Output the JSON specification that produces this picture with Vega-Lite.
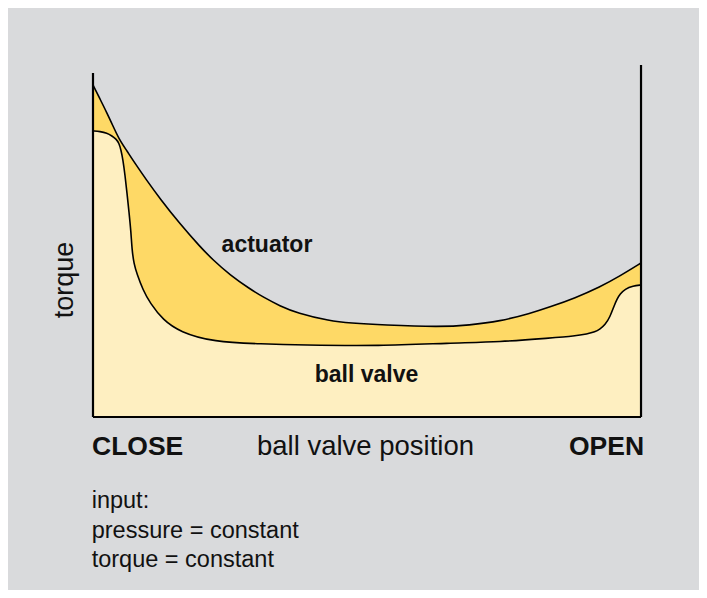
{
  "$schema": "https://vega.github.io/schema/vega-lite/v6.json",
  "width": 691,
  "height": 582,
  "padding": {"left": 8, "top": 8, "right": 8, "bottom": 8},
  "autosize": {"type": "none"},
  "background": "white",
  "config": {"view": {"stroke": null, "fill": "#d9dadc"}},
  "datasets": {
    "actuator": [
      {"pos": 0, "torque": 94.32}, {"pos": 1.28, "torque": 90.34}, {"pos": 2.55, "torque": 86.36},
      {"pos": 3.65, "torque": 82.67}, {"pos": 4.74, "torque": 78.98}, {"pos": 6.2, "torque": 75.57},
      {"pos": 7.66, "torque": 72.07}, {"pos": 9.67, "torque": 67.53}, {"pos": 12.23, "torque": 62.02},
      {"pos": 15.88, "torque": 54.83}, {"pos": 19.53, "torque": 48.39}, {"pos": 21.9, "torque": 44.6},
      {"pos": 25.0, "torque": 40.34}, {"pos": 28.65, "torque": 36.36}, {"pos": 31.02, "torque": 34.09},
      {"pos": 34.12, "torque": 31.53}, {"pos": 37.23, "torque": 29.55}, {"pos": 43.25, "torque": 27.27},
      {"pos": 46.9, "torque": 26.7}, {"pos": 52.92, "torque": 26.14}, {"pos": 63.32, "torque": 25.57},
      {"pos": 68.61, "torque": 26.08}, {"pos": 74.27, "torque": 27.19}, {"pos": 79.74, "torque": 29.4},
      {"pos": 83.39, "torque": 31.25}, {"pos": 87.96, "torque": 33.81}, {"pos": 92.52, "torque": 36.93},
      {"pos": 96.17, "torque": 40.06}, {"pos": 100, "torque": 43.75}
    ],
    "ballvalve": [
      {"pos": 0, "torque": 81.25}, {"pos": 1.28, "torque": 81.11}, {"pos": 2.55, "torque": 80.68},
      {"pos": 3.47, "torque": 79.83}, {"pos": 4.2, "torque": 78.98}, {"pos": 4.74, "torque": 77.84},
      {"pos": 5.11, "torque": 75.85}, {"pos": 5.47, "torque": 73.01}, {"pos": 5.84, "torque": 68.75},
      {"pos": 6.2, "torque": 63.64}, {"pos": 6.57, "torque": 58.24}, {"pos": 6.93, "torque": 52.56},
      {"pos": 7.12, "torque": 47.44}, {"pos": 7.48, "torque": 43.47}, {"pos": 8.03, "torque": 40.63},
      {"pos": 9.12, "torque": 36.08}, {"pos": 10.4, "torque": 32.39}, {"pos": 12.77, "torque": 27.56},
      {"pos": 15.88, "torque": 24.15}, {"pos": 21.9, "torque": 21.31}, {"pos": 31.02, "torque": 20.74},
      {"pos": 37.77, "torque": 20.45}, {"pos": 52.37, "torque": 20.17}, {"pos": 65.15, "torque": 21.02},
      {"pos": 74.27, "torque": 21.31}, {"pos": 83.39, "torque": 22.44}, {"pos": 87.96, "torque": 23.01},
      {"pos": 90.15, "torque": 23.58}, {"pos": 91.61, "torque": 24.15}, {"pos": 92.52, "torque": 25.0},
      {"pos": 93.43, "torque": 26.14}, {"pos": 94.34, "torque": 28.41}, {"pos": 95.07, "torque": 31.53},
      {"pos": 95.62, "torque": 33.52}, {"pos": 96.17, "torque": 34.94}, {"pos": 97.08, "torque": 36.36},
      {"pos": 98.54, "torque": 37.22}, {"pos": 100, "torque": 37.5}
    ],
    "frame": [
      {"x": 0, "y": 0, "y2": 97.73},
      {"x": 100, "y": 0, "y2": 100}
    ],
    "base": [{"x": 0, "x2": 100, "y": 0}],
    "boldCenter": [
      {"label": "actuator", "x": 31.75, "y": 46.96},
      {"label": "ball valve", "x": 49.91, "y": 10.03}
    ],
    "boldLeft": [{"label": "CLOSE", "x": -0.18, "y": -10.8}],
    "boldRight": [{"label": "OPEN", "x": 100.55, "y": -10.8}],
    "axisTitle": [{"label": "ball valve position", "x": 49.73, "y": -10.8}],
    "notes": [
      {"label": "input:", "x": -0.24, "y": -25.85},
      {"label": "pressure = constant", "x": -0.24, "y": -34.38},
      {"label": "torque = constant", "x": -0.24, "y": -42.61}
    ],
    "yTitle": [{"label": "torque", "x": -5.2, "y": 38.92}]
  },
  "layer": [
    {
      "data": {"name": "actuator"},
      "mark": {"type": "area", "color": "#fed966", "interpolate": "basis"},
      "encoding": {
        "x": {"field": "pos", "type": "quantitative", "axis": null, "scale": {"domain": [-15.51, 110.58], "nice": false, "zero": false}},
        "y": {"field": "torque", "type": "quantitative", "axis": null, "scale": {"domain": [-49.15, 116.19], "nice": false, "zero": false}},
        "y2": {"datum": 0}
      }
    },
    {
      "data": {"name": "ballvalve"},
      "mark": {"type": "area", "color": "#feefc1", "interpolate": "basis"},
      "encoding": {
        "x": {"field": "pos", "type": "quantitative"},
        "y": {"field": "torque", "type": "quantitative"},
        "y2": {"datum": 0}
      }
    },
    {
      "data": {"name": "actuator"},
      "mark": {"type": "line", "color": "#000", "strokeWidth": 1.6, "interpolate": "basis"},
      "encoding": {
        "x": {"field": "pos", "type": "quantitative"},
        "y": {"field": "torque", "type": "quantitative"}
      }
    },
    {
      "data": {"name": "ballvalve"},
      "mark": {"type": "line", "color": "#000", "strokeWidth": 1.6, "interpolate": "basis"},
      "encoding": {
        "x": {"field": "pos", "type": "quantitative"},
        "y": {"field": "torque", "type": "quantitative"}
      }
    },
    {
      "data": {"name": "frame"},
      "mark": {"type": "rule", "color": "#000", "strokeWidth": 2.2},
      "encoding": {
        "x": {"field": "x", "type": "quantitative"},
        "y": {"field": "y", "type": "quantitative"},
        "y2": {"field": "y2"}
      }
    },
    {
      "data": {"name": "base"},
      "mark": {"type": "rule", "color": "#000", "strokeWidth": 2.2},
      "encoding": {
        "x": {"field": "x", "type": "quantitative"},
        "x2": {"field": "x2"},
        "y": {"field": "y", "type": "quantitative"}
      }
    },
    {
      "data": {"name": "boldCenter"},
      "mark": {"type": "text", "font": "Liberation Sans", "fontWeight": "bold", "fontSize": 23, "align": "center", "baseline": "alphabetic", "color": "#111"},
      "encoding": {
        "x": {"field": "x", "type": "quantitative"},
        "y": {"field": "y", "type": "quantitative"},
        "text": {"field": "label"}
      }
    },
    {
      "data": {"name": "boldLeft"},
      "mark": {"type": "text", "font": "Liberation Sans", "fontWeight": "bold", "fontSize": 26.5, "align": "left", "baseline": "alphabetic", "color": "#111"},
      "encoding": {
        "x": {"field": "x", "type": "quantitative"},
        "y": {"field": "y", "type": "quantitative"},
        "text": {"field": "label"}
      }
    },
    {
      "data": {"name": "boldRight"},
      "mark": {"type": "text", "font": "Liberation Sans", "fontWeight": "bold", "fontSize": 26.5, "align": "right", "baseline": "alphabetic", "color": "#111"},
      "encoding": {
        "x": {"field": "x", "type": "quantitative"},
        "y": {"field": "y", "type": "quantitative"},
        "text": {"field": "label"}
      }
    },
    {
      "data": {"name": "axisTitle"},
      "mark": {"type": "text", "font": "Liberation Sans", "fontSize": 27.5, "align": "center", "baseline": "alphabetic", "color": "#111"},
      "encoding": {
        "x": {"field": "x", "type": "quantitative"},
        "y": {"field": "y", "type": "quantitative"},
        "text": {"field": "label"}
      }
    },
    {
      "data": {"name": "notes"},
      "mark": {"type": "text", "font": "Liberation Sans", "fontSize": 23.5, "align": "left", "baseline": "alphabetic", "color": "#111"},
      "encoding": {
        "x": {"field": "x", "type": "quantitative"},
        "y": {"field": "y", "type": "quantitative"},
        "text": {"field": "label"}
      }
    },
    {
      "data": {"name": "yTitle"},
      "mark": {"type": "text", "font": "Liberation Sans", "fontSize": 27, "align": "center", "baseline": "middle", "angle": 270, "color": "#111"},
      "encoding": {
        "x": {"field": "x", "type": "quantitative"},
        "y": {"field": "y", "type": "quantitative"},
        "text": {"field": "label"}
      }
    }
  ]
}
